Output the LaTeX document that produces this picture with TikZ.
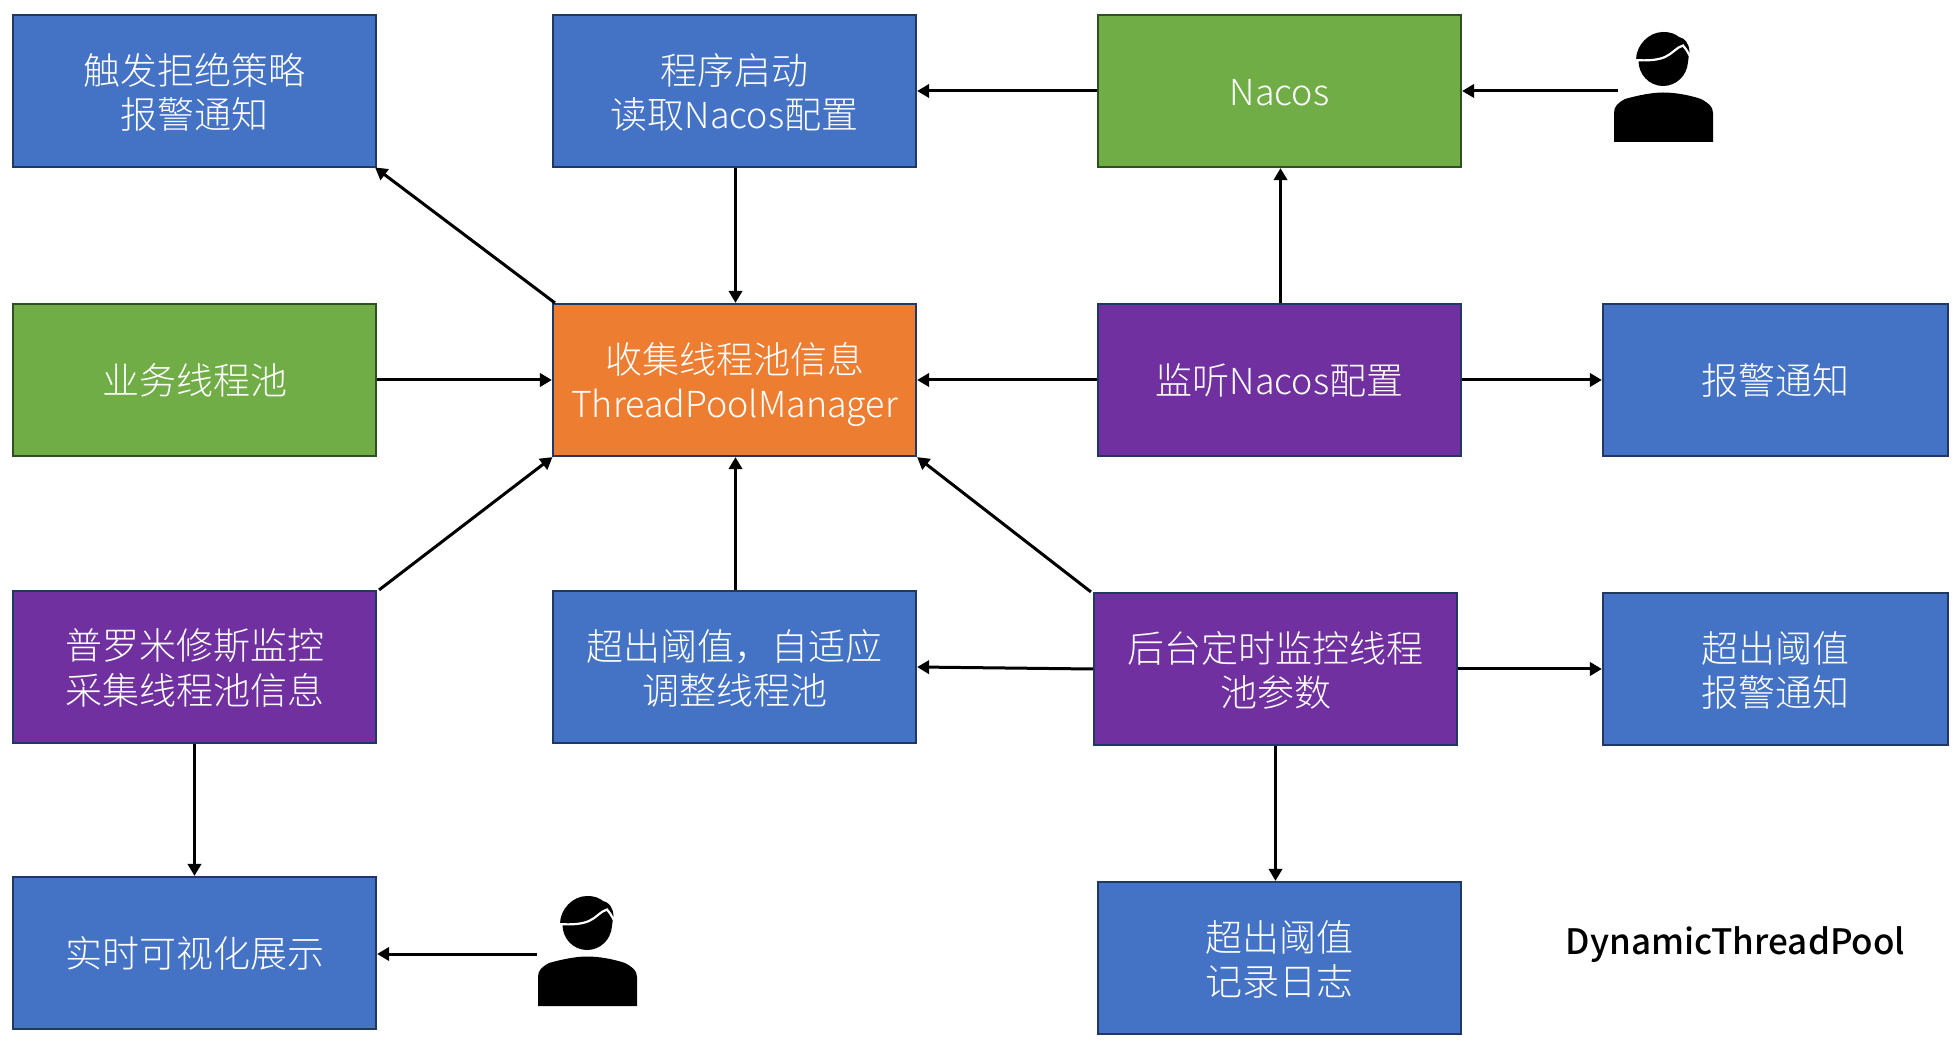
\documentclass[tikz,border=0pt]{standalone}
\usepackage{fontspec}
\setmainfont{Noto Sans CJK SC}[Scale=1]
\newfontfamily\labelfont{Noto Sans CJK SC Light}
\newfontfamily\titlefont{Noto Sans CJK SC Medium}
\usetikzlibrary{arrows.meta,positioning}
\definecolor{bluefill}{HTML}{4472C4}
\definecolor{greenfill}{HTML}{70AD47}
\definecolor{orangefill}{HTML}{ED7D31}
\definecolor{purplefill}{HTML}{7030A0}
\definecolor{navyedge}{HTML}{1F3864}
\definecolor{greenedge}{HTML}{2F5020}
\tikzset{
  x=0.5pt,y=-0.5pt,
  boxbase/.style={draw=navyedge,line width=1.1pt,text=white,inner sep=0pt,
    minimum width=181.5pt,minimum height=76pt,font=\labelfont\fontsize{18.5}{21.9}\selectfont},
  bluebox/.style={boxbase,fill=bluefill},
  greenbox/.style={boxbase,fill=greenfill,draw=greenedge},
  orangebox/.style={boxbase,fill=orangefill},
  purplebox/.style={boxbase,fill=purplefill},
  conn/.style={line width=1.5pt,draw=black,-{Triangle[length=6pt,width=6.6pt]}},
  titletext/.style={font=\titlefont\fontsize{17.5}{20}\selectfont,text=black,inner sep=0pt},
}
% box text, lowered by half the optional amount
\newcommand{\tx}[2][6.25pt]{\raisebox{0pt}[\dimexpr\height+#1\relax][\depth]{\begin{tabular}{@{}c@{}}#2\end{tabular}}}
\newcommand{\lat}[1]{{\fontsize{17.9}{21.9}\selectfont #1}}
\newcommand{\personicon}[2]{%
  \begin{scope}[shift={(#1,#2)}]
    \fill[black] (-49,142) -- (-49,113) .. controls (-49,106) and (-45,103) .. (-38,99)
      .. controls (-24,95) and (-10,92.5) .. (0,92.5)
      .. controls (12,92.5) and (26,95) .. (38,99)
      .. controls (45,103) and (50,106) .. (50,113) -- (50,142) -- cycle;
    \fill[black] (-27,60) .. controls (-27,45) and (-14,32) .. (0,32)
      .. controls (8,32) and (12,34) .. (16,37)
      .. controls (22,38) and (26,44) .. (26.5,51)
      -- (25,62) .. controls (24,76) and (13,86) .. (0,86)
      .. controls (-14,86) and (-25,74) .. (-24.5,60) -- cycle;
    \draw[white,line width=1.1pt] (-28,60) .. controls (-15,61) and (-5,60) .. (2,57)
      .. controls (9,54) and (14,47) .. (20,45.5) .. controls (25,51) and (27,57) .. (30,62);
  \end{scope}}
\begin{document}
\begin{tikzpicture}
\useasboundingbox (0,0) rectangle (1960,1042);
\fill[white] (0,0) rectangle (1960,1042);
\node[bluebox] (reject) at (194.5,91) {\tx{触发拒绝策略\\报警通知}};
\node[bluebox] (startup) at (734.5,91) {\tx{程序启动\\读取\lat{Nacos}配置}};
\node[greenbox] (nacos) at (1279.5,91) {\tx[5.3pt]{\lat{Nacos}}};
\node[greenbox] (biz) at (194.5,380) {\tx[5.3pt]{业务线程池}};
\node[orangebox] (core) at (734.5,380) {\tx{收集线程池信息\\\lat{ThreadPoolManager}}};
\node[purplebox] (listen) at (1279.5,380) {\tx[5.3pt]{监听\lat{Nacos}配置}};
\node[bluebox,minimum width=172.5pt] (alarm) at (1775.5,380) {\tx[5.3pt]{报警通知}};
\node[purplebox] (prom) at (194.5,667) {\tx{普罗米修斯监控\\采集线程池信息}};
\node[bluebox] (adapt) at (734.5,667) {\tx{超出阈值，自适应\\调整线程池}};
\node[purplebox] (timer) at (1275.5,669) {\tx{后台定时监控线程\\池参数}};
\node[bluebox,minimum width=172.5pt] (over) at (1775.5,669) {\tx{超出阈值\\报警通知}};
\node[bluebox] (view) at (194.5,953) {\tx[5.3pt]{实时可视化展示}};
\node[bluebox] (log) at (1279.5,958) {\tx{超出阈值\\记录日志}};
\node[titletext,anchor=base] (title) at (1735.5,954) {DynamicThreadPool};
\coordinate (userA) at (1618,91);
\coordinate (userB) at (537,954);
\personicon{1663}{0}
\personicon{587}{864}
\draw[conn] (nacos.west) -- (startup.east);
\draw[conn] (userA) -- (nacos.east);
\draw[conn] ([xshift=0.5pt]startup.south) -- ([xshift=0.5pt]core.north);
\draw[conn] ([xshift=0.5pt]listen.north) -- ([xshift=0.5pt]nacos.south);
\draw[conn] (biz.east) -- (core.west);
\draw[conn] (listen.west) -- (core.east);
\draw[conn] (listen.east) -- (alarm.west);
\draw[conn] ([xshift=1.5pt]core.north west) -- ([xshift=-1pt,yshift=0.3pt]reject.south east);
\draw[conn] ([xshift=1pt]prom.north east) -- ([xshift=0.3pt]core.south west);
\draw[conn] ([xshift=0.5pt]adapt.north) -- ([xshift=0.5pt]core.south);
\draw[conn] ([xshift=-1pt]timer.north west) -- (core.south east);
\draw[conn] (timer.west) -- (adapt.east);
\draw[conn] (timer.east) -- (over.west);
\draw[conn] (timer.south) -- (log.north -| timer.south);
\draw[conn] (prom.south) -- (view.north);
\draw[conn] (userB) -- (view.east |- userB);
\end{tikzpicture}
\end{document}
